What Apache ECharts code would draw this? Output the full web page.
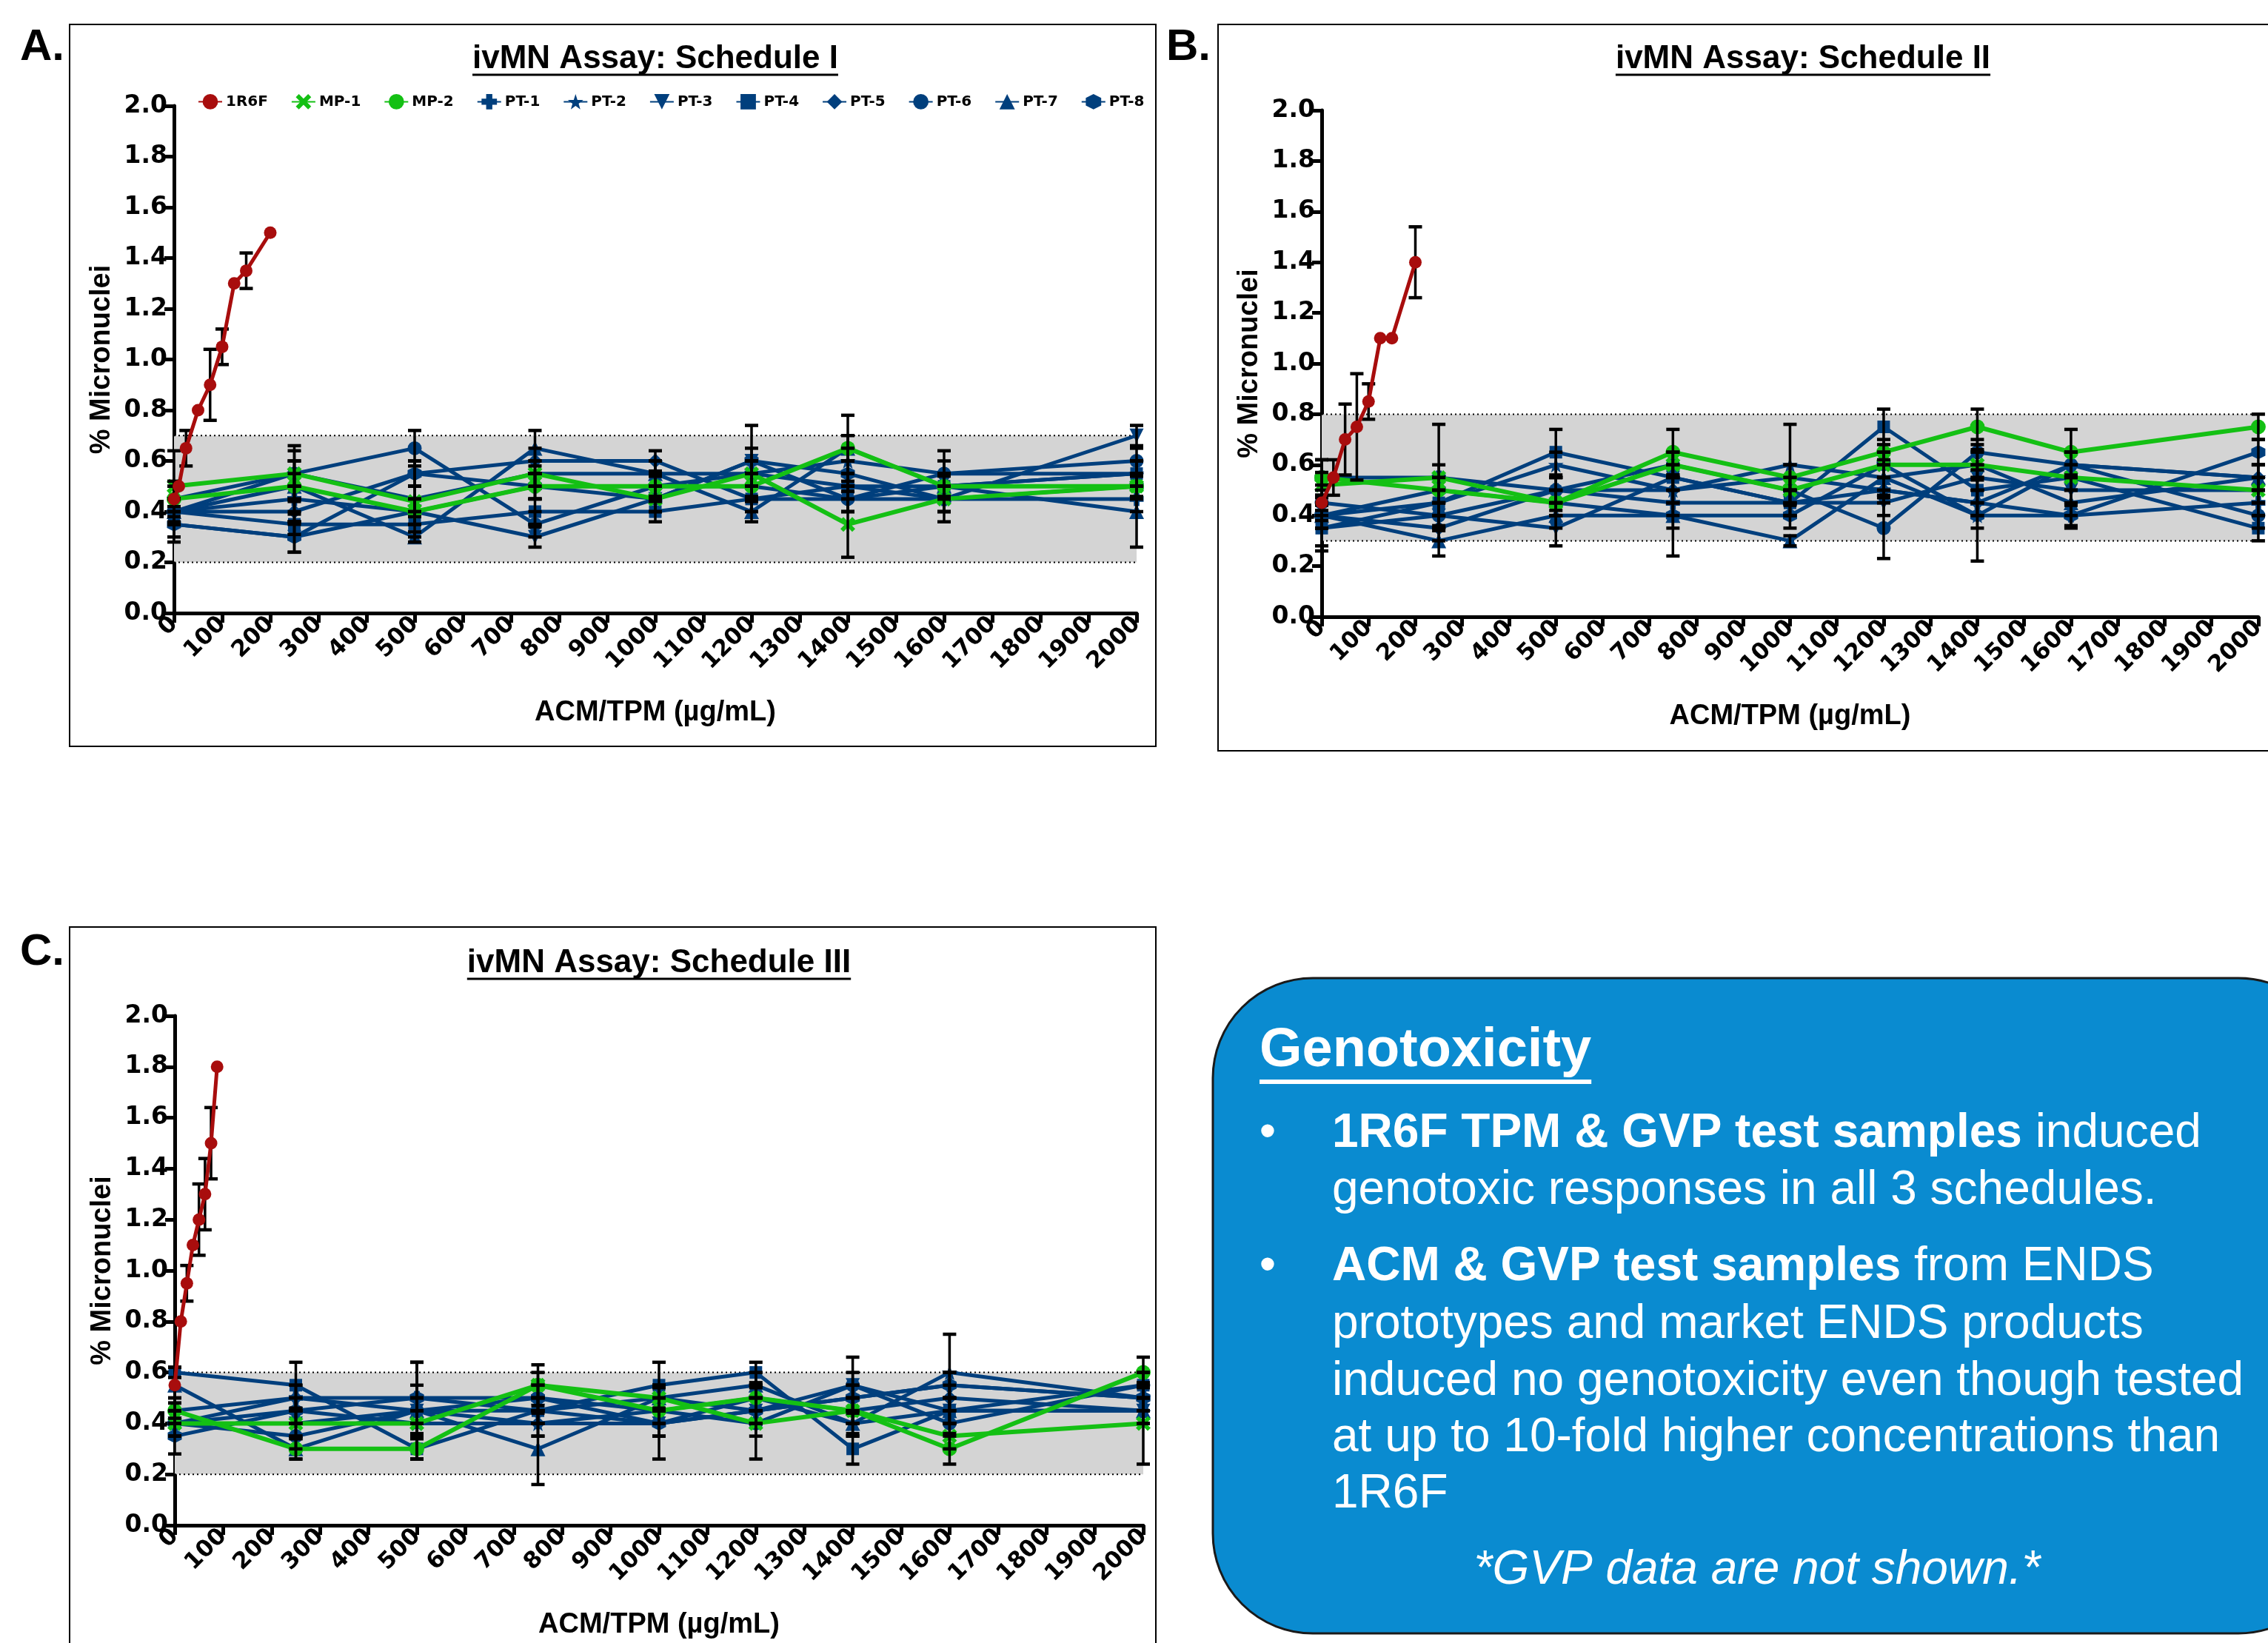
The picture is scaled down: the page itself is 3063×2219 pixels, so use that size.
<!DOCTYPE html>
<html><head><meta charset="utf-8">
<script src="https://cdn.jsdelivr.net/npm/echarts@6/dist/echarts.min.js"></script>
<style>html,body{margin:0;padding:0;background:#fff;overflow:hidden}#c{width:3063px;height:2219px}</style>
</head><body><div id="c"></div><script>
// ---------------- DATA ----------------
const seriesNames = ['1R6F','MP-1','MP-2','PT-1','PT-2','PT-3','PT-4','PT-5','PT-6','PT-7','PT-8'];
const testX = [0,250,500,750,1000,1200,1400,1600,2000];

const r6fX_I = [0,10,25,50,75,100,125,150,200];
const r6fY_I = [0.45,0.50,0.65,0.80,0.90,1.05,1.30,1.35,1.50];
const r6fErr_I = [0.07,0,0.07,0,0.14,0.07,0,0.07,0];
const testY_I = [
  [0.50,0.55,0.44,0.55,0.45,0.55,0.35,0.45,0.50],
  [0.45,0.50,0.40,0.50,0.50,0.50,0.65,0.50,0.50],
  [0.40,0.45,0.40,0.50,0.50,0.55,0.50,0.45,0.45],
  [0.45,0.55,0.45,0.55,0.55,0.55,0.60,0.55,0.55],
  [0.35,0.30,0.40,0.30,0.45,0.60,0.45,0.45,0.70],
  [0.40,0.35,0.35,0.40,0.40,0.45,0.50,0.50,0.55],
  [0.40,0.40,0.55,0.60,0.60,0.45,0.45,0.50,0.55],
  [0.40,0.55,0.65,0.35,0.50,0.50,0.45,0.55,0.60],
  [0.40,0.50,0.30,0.65,0.55,0.40,0.65,0.50,0.40],
  [0.35,0.30,0.55,0.50,0.45,0.60,0.55,0.45,0.50]
];
const testErr_I = [
  [0.14,0.11,0.06,0.05,0.05,0.05,0.13,0.05,0.04],
  [0.05,0.14,0.05,0.05,0.04,0.05,0.13,0.05,0.05],
  [0.05,0.05,0.05,0.05,0.04,0.05,0.05,0.05,0.05],
  [0.05,0.05,0.05,0.05,0.05,0.05,0.05,0.05,0.05],
  [0.07,0.06,0.05,0.04,0.05,0.14,0.05,0.09,0.04],
  [0.05,0.04,0.05,0.05,0.04,0.05,0.05,0.05,0.05],
  [0.05,0.05,0.05,0.05,0.04,0.05,0.05,0.05,0.05],
  [0.05,0.05,0.07,0.05,0.05,0.05,0.05,0.09,0.05],
  [0.05,0.05,0.02,0.07,0.05,0.04,0.05,0.05,0.14],
  [0.05,0.06,0.05,0.05,0.05,0.05,0.05,0.05,0.05]
];
const band_I = [0.2,0.7];

const r6fX_II = [0,25,50,75,100,125,150,200];
const r6fY_II = [0.45,0.55,0.70,0.75,0.85,1.10,1.10,1.40];
const r6fErr_II = [0.07,0.07,0.14,0.21,0.07,0,0,0.14];
const testY_II = [
  [0.52,0.55,0.45,0.60,0.50,0.60,0.60,0.55,0.50],
  [0.55,0.50,0.45,0.65,0.55,0.65,0.75,0.65,0.75],
  [0.55,0.55,0.50,0.45,0.45,0.50,0.45,0.40,0.45],
  [0.40,0.45,0.60,0.50,0.60,0.55,0.40,0.60,0.55],
  [0.35,0.40,0.35,0.55,0.45,0.45,0.55,0.50,0.50],
  [0.35,0.45,0.65,0.55,0.45,0.75,0.50,0.55,0.35],
  [0.40,0.35,0.50,0.50,0.55,0.50,0.45,0.60,0.55],
  [0.45,0.40,0.50,0.60,0.50,0.35,0.65,0.60,0.40],
  [0.40,0.30,0.40,0.40,0.30,0.55,0.60,0.45,0.55],
  [0.40,0.50,0.45,0.40,0.40,0.60,0.40,0.40,0.65]
];
const testErr_II = [
  [0.05,0.05,0.05,0.05,0.05,0.05,0.06,0.05,0.05],
  [0.07,0.05,0.05,0.09,0.05,0.05,0.07,0.09,0.05],
  [0.07,0.21,0.05,0.05,0.05,0.05,0.05,0.04,0.05],
  [0.05,0.05,0.05,0.05,0.16,0.07,0.05,0.05,0.05],
  [0.07,0.05,0.07,0.05,0.05,0.05,0.05,0.05,0.05],
  [0.09,0.05,0.09,0.05,0.05,0.07,0.05,0.05,0.05],
  [0.05,0.05,0.05,0.05,0.05,0.05,0.05,0.05,0.05],
  [0.05,0.05,0.05,0.05,0.05,0.12,0.05,0.05,0.05],
  [0.05,0.06,0.05,0.05,0.02,0.05,0.05,0.05,0.05],
  [0.05,0.05,0.05,0.16,0.05,0.05,0.18,0.05,0.05]
];
const band_II = [0.3,0.8];

const r6fX_III = [0,12.5,25,37.5,50,62.5,75,87.5];
const r6fY_III = [0.55,0.80,0.95,1.10,1.20,1.30,1.50,1.80];
const r6fErr_III = [0.07,0,0.07,0,0.14,0.14,0.14,0];
const testY_III = [
  [0.40,0.40,0.40,0.55,0.50,0.40,0.45,0.35,0.40],
  [0.45,0.30,0.30,0.55,0.45,0.50,0.45,0.30,0.60],
  [0.40,0.50,0.50,0.45,0.50,0.45,0.50,0.55,0.50],
  [0.40,0.45,0.40,0.40,0.45,0.50,0.40,0.60,0.50],
  [0.40,0.40,0.45,0.45,0.40,0.45,0.55,0.45,0.45],
  [0.60,0.55,0.30,0.45,0.55,0.60,0.30,0.45,0.55],
  [0.45,0.50,0.45,0.40,0.40,0.50,0.45,0.50,0.45],
  [0.40,0.35,0.45,0.50,0.45,0.40,0.55,0.40,0.55],
  [0.55,0.30,0.45,0.30,0.50,0.55,0.40,0.45,0.45],
  [0.35,0.45,0.50,0.50,0.40,0.45,0.50,0.55,0.50]
];
const testErr_III = [
  [0.05,0.05,0.05,0.05,0.05,0.14,0.05,0.05,0.16],
  [0.05,0.04,0.04,0.08,0.05,0.05,0.05,0.06,0.06],
  [0.05,0.05,0.05,0.05,0.05,0.05,0.05,0.05,0.05],
  [0.05,0.05,0.05,0.05,0.05,0.05,0.05,0.15,0.05],
  [0.05,0.05,0.05,0.05,0.14,0.05,0.11,0.05,0.05],
  [0.02,0.09,0.04,0.05,0.09,0.04,0.06,0.05,0.05],
  [0.05,0.05,0.05,0.05,0.05,0.05,0.05,0.05,0.05],
  [0.05,0.05,0.19,0.05,0.05,0.05,0.05,0.05,0.05],
  [0.07,0.04,0.05,0.14,0.05,0.05,0.05,0.05,0.05],
  [0.07,0.05,0.14,0.05,0.05,0.05,0.05,0.05,0.05]
];
const band_III = [0.2,0.6];

const panelTitles = ['ivMN Assay: Schedule I','ivMN Assay: Schedule II','ivMN Assay: Schedule III'];
const panelLetters = ['A.','B.','C.'];
const yAxisName = '% Micronuclei';
const xAxisName = 'ACM/TPM (µg/mL)';
const boxTitle = 'Genotoxicity';
const boxLines = [
  '{b|1R6F TPM & GVP test samples} induced',
  'genotoxic responses in all 3 schedules.',
  '{b|ACM & GVP test samples} from ENDS',
  'prototypes and market ENDS products',
  'induced no genotoxicity even though tested',
  'at up to 10-fold higher concentrations than',
  '1R6F'
];
const boxNote = '*GVP data are not shown.*';

// ---------------- STYLE ----------------
const RED = '#a80d0d', GREEN = '#14c014', BLUE = '#003f7d';
const seriesColors = [RED, GREEN, GREEN, BLUE, BLUE, BLUE, BLUE, BLUE, BLUE, BLUE, BLUE];
const seriesSymbols = [
  'circle',
  'path://M0,2 L2,0 L5,3 L8,0 L10,2 L7,5 L10,8 L8,10 L5,7 L2,10 L0,8 L3,5 Z',
  'circle',
  'path://M3,0 H7 V3 H10 V7 H7 V10 H3 V7 H0 V3 H3 Z',
  'path://M5,0 L6.2,3.6 L10,3.6 L7,5.9 L8.1,9.5 L5,7.3 L1.9,9.5 L3,5.9 L0,3.6 L3.8,3.6 Z',
  'path://M0,0 L10,0 L5,10 Z',
  'rect',
  'diamond',
  'circle',
  'triangle',
  'path://M5,0 L9.33,2.5 L9.33,7.5 L5,10 L0.67,7.5 L0.67,2.5 Z'
];
const seriesLineW = [5,6,6,5,5,5,5,5,5,5,5];
const seriesSymSize = [17,20,20,19,21,19,17,20,19,20,19];

const grids = [
  {left:235, top:143, width:1300, height:685},
  {left:1785, top:149, width:1300, height:684},
  {left:236, top:1372, width:1308, height:688}
];
const panels = [
  {rx:r6fX_I, ry:r6fY_I, re:r6fErr_I, ty:testY_I, te:testErr_I, band:band_I},
  {rx:r6fX_II, ry:r6fY_II, re:r6fErr_II, ty:testY_II, te:testErr_II, band:band_II},
  {rx:r6fX_III, ry:r6fY_III, re:r6fErr_III, ty:testY_III, te:testErr_III, band:band_III}
];

const TICKFONT = '"DejaVu Sans", sans-serif';
const ARIAL = '"Liberation Sans", Arial, sans-serif';

const xAxes = [], yAxes = [], series = [];
panels.forEach((p, i) => {
  xAxes.push({
    gridIndex:i, type:'value', min:0, max:2000, interval:100,
    name:xAxisName, nameLocation:'middle', nameGap:116,
    nameTextStyle:{fontFamily:ARIAL, fontWeight:'bold', fontSize:38, color:'#000'},
    axisLine:{onZero:false, lineStyle:{color:'#000', width:5}},
    axisTick:{length:13, lineStyle:{color:'#000', width:5}},
    axisLabel:{rotate:45, formatter:v => String(v), fontFamily:TICKFONT, fontWeight:'bold', fontSize:31, color:'#000', margin:10},
    splitLine:{show:false}
  });
  yAxes.push({
    gridIndex:i, type:'value', min:0, max:2, interval:0.2,
    name:yAxisName, nameLocation:'middle', nameGap:78,
    nameTextStyle:{fontFamily:ARIAL, fontWeight:'bold', fontSize:38, color:'#000'},
    axisLine:{show:true, lineStyle:{color:'#000', width:5}},
    axisTick:{show:true, length:13, lineStyle:{color:'#000', width:5}},
    axisLabel:{formatter:v => v.toFixed(1), fontFamily:TICKFONT, fontWeight:'bold', fontSize:33, color:'#000', margin:9},
    splitLine:{show:false}
  });
  series.push({
    type:'custom', xAxisIndex:i, yAxisIndex:i, z:1, silent:true,
    data:[[0, p.band[0], 2000, p.band[1]]],
    renderItem:(params, api) => {
      const a = api.coord([api.value(0), api.value(3)]);
      const b = api.coord([api.value(2), api.value(1)]);
      return {type:'group', children:[
        {type:'rect', shape:{x:a[0], y:a[1], width:b[0]-a[0], height:b[1]-a[1]}, style:{fill:'#d4d4d4'}},
        {type:'line', shape:{x1:a[0], y1:a[1], x2:b[0], y2:a[1]}, style:{stroke:'#000', lineWidth:2, lineDash:[2,4]}},
        {type:'line', shape:{x1:a[0], y1:b[1], x2:b[0], y2:b[1]}, style:{stroke:'#000', lineWidth:2, lineDash:[2,4]}}
      ]};
    }
  });
  const errData = [];
  const order = [3,4,5,6,7,8,9,10,1,2];
  order.forEach(k => {
    const ys = p.ty[k-1], es = p.te[k-1];
    series.push({
      type:'line', name:seriesNames[k], xAxisIndex:i, yAxisIndex:i, z:k<=2?4:3,
      data:testX.map((x, j) => [x, ys[j]]),
      symbol:seriesSymbols[k], symbolSize:seriesSymSize[k],
      lineStyle:{color:seriesColors[k], width:seriesLineW[k]},
      itemStyle:{color:seriesColors[k]}
    });
    testX.forEach((x, j) => errData.push([x, ys[j], es[j]]));
  });
  series.push({
    type:'line', name:seriesNames[0], xAxisIndex:i, yAxisIndex:i, z:6,
    data:p.rx.map((x, j) => [x, p.ry[j]]),
    symbol:seriesSymbols[0], symbolSize:seriesSymSize[0],
    lineStyle:{color:seriesColors[0], width:seriesLineW[0]},
    itemStyle:{color:seriesColors[0]}
  });
  p.rx.forEach((x, j) => errData.push([x, p.ry[j], p.re[j]]));
  series.push({
    type:'custom', xAxisIndex:i, yAxisIndex:i, z:5, silent:true,
    data:errData,
    renderItem:(params, api) => {
      const x = api.value(0), y = api.value(1), e = api.value(2);
      if (!e) return null;
      const t = api.coord([x, y+e]), b = api.coord([x, y-e]);
      const cw = 9;
      return {type:'group', children:[
        {type:'line', shape:{x1:t[0], y1:t[1], x2:b[0], y2:b[1]}, style:{stroke:'#000', lineWidth:3.5}},
        {type:'line', shape:{x1:t[0]-cw, y1:t[1], x2:t[0]+cw, y2:t[1]}, style:{stroke:'#000', lineWidth:4.5}},
        {type:'line', shape:{x1:b[0]-cw, y1:b[1], x2:b[0]+cw, y2:b[1]}, style:{stroke:'#000', lineWidth:4.5}}
      ]};
    }
  });
});

// ---------- graphics ----------
const mctx = document.createElement('canvas').getContext('2d');
function textW(font, s){ mctx.font = font; return mctx.measureText(s).width; }

const titleFont = 'bold 44px ' + ARIAL;
const titlePos = [[885, 80], [2435, 80], [890, 1301]];
const graphic = [
  {type:'rect', shape:{x:94, y:33, width:1467, height:975}, style:{fill:'none', stroke:'#000', lineWidth:2}},
  {type:'rect', shape:{x:1645, y:33, width:1500, height:981}, style:{fill:'none', stroke:'#000', lineWidth:2}},
  {type:'rect', shape:{x:94, y:1252, width:1467, height:1100}, style:{fill:'none', stroke:'#000', lineWidth:2}}
];
const letterPos = [[27, 64], [1575, 64], [27, 1286]];
panelLetters.forEach((L, i) => {
  graphic.push({type:'text', x:letterPos[i][0], y:letterPos[i][1],
    style:{text:L, font:'bold 60px ' + ARIAL, fill:'#000', textAlign:'left', textVerticalAlign:'middle'}});
});
panelTitles.forEach((t, i) => {
  const [cx, cy] = titlePos[i];
  const w = textW(titleFont, t);
  graphic.push({type:'text', x:cx, y:cy,
    style:{text:t, font:titleFont, fill:'#000', textAlign:'center', textVerticalAlign:'middle'}});
  graphic.push({type:'line', shape:{x1:cx-w/2, y1:cy+21, x2:cx+w/2, y2:cy+21}, style:{stroke:'#000', lineWidth:3}});
});
graphic.push({type:'rect', shape:{x:1638, y:1321, width:1520, height:885, r:135},
  style:{fill:'#0a8bd0', stroke:'#1a1a1a', lineWidth:3}});
const gFont = 'bold 74px ' + ARIAL;
const gW = textW(gFont, boxTitle);
graphic.push({type:'text', x:1701, y:1420, style:{text:boxTitle, font:gFont, fill:'#fff', textAlign:'left', textVerticalAlign:'middle'}});
graphic.push({type:'line', shape:{x1:1701, y1:1461, x2:1701+gW, y2:1461}, style:{stroke:'#fff', lineWidth:6}});
const lineYs = [1531, 1608, 1711, 1789, 1866, 1942, 2018];
const bodyFont = '64px ' + ARIAL;
boxLines.forEach((s, i) => {
  graphic.push({type:'text', x:1799, y:lineYs[i], style:{text:s, font:bodyFont, fill:'#fff', textAlign:'left', textVerticalAlign:'middle',
    rich:{b:{font:'bold 64px ' + ARIAL, fill:'#fff'}}}});
});
[0, 2].forEach(i => {
  graphic.push({type:'text', x:1712, y:lineYs[i], style:{text:'•', font:bodyFont, fill:'#fff', textAlign:'center', textVerticalAlign:'middle'}});
});
graphic.push({type:'text', x:2373, y:2121, style:{text:boxNote, font:'italic 64px ' + ARIAL, fill:'#fff', textAlign:'center', textVerticalAlign:'middle'}});

const chart = echarts.init(document.getElementById('c'), null, {renderer:'canvas'});
chart.setOption({
  animation:false,
  backgroundColor:'#fff',
  grid:grids,
  xAxis:xAxes,
  yAxis:yAxes,
  legend:{
    data:seriesNames, left:262, top:122, itemWidth:32, itemHeight:26, itemGap:31,
    textStyle:{fontFamily:TICKFONT, fontWeight:'bold', fontSize:20, color:'#000'}
  },
  series:series,
  graphic:graphic
});
</script></body></html>
